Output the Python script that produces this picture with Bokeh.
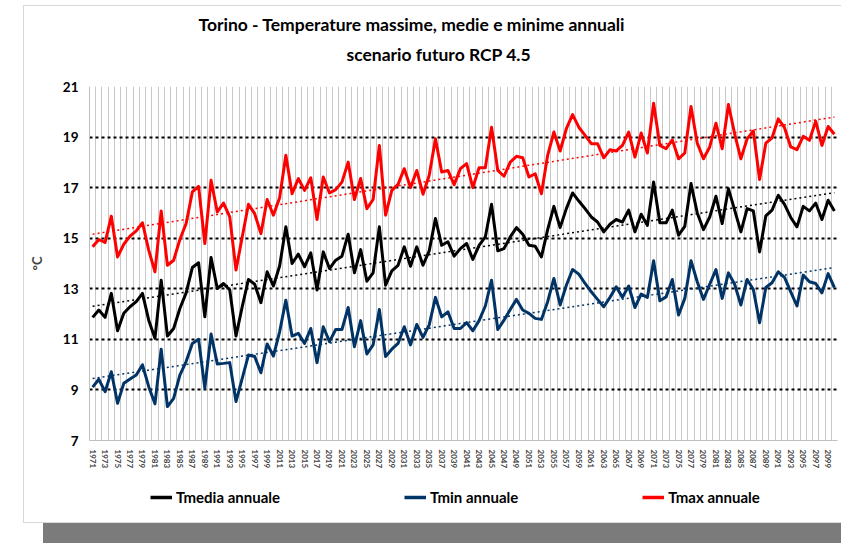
import numpy as np
from bokeh.plotting import figure
from bokeh.layouts import column
from bokeh.models import FixedTicker, Legend, LegendItem, Title, Range1d
from bokeh.embed import file_html
from bokeh.resources import INLINE

# ---------------- data ----------------
years = [str(y) for y in range(1971, 2001)] + [str(y) for y in range(2011, 2101)]

tmedia = [11.87, 12.16, 11.87, 12.82, 11.34, 12.03, 12.29, 12.49, 12.82, 11.76,
          11.04, 13.34, 11.13, 11.43, 12.22, 12.84, 13.84, 14.03, 11.89, 14.24,
          13.01, 13.21, 12.95, 11.13, 12.29, 13.37, 13.18, 12.45, 13.67, 13.11,
          13.90, 15.45, 14.00, 14.37, 13.87, 14.42, 12.95, 14.46, 13.80, 14.13,
          14.29, 15.16, 13.63, 14.55, 13.30, 13.63, 15.45, 13.14, 13.71, 13.93,
          14.66, 13.89, 14.66, 13.93, 14.50, 15.78, 14.72, 14.86, 14.29, 14.59,
          14.79, 14.16, 14.72, 15.05, 16.34, 14.50, 14.59, 15.05, 15.42, 15.16,
          14.72, 14.68, 14.26, 15.34, 16.26, 15.42, 16.17, 16.79, 16.47, 16.17,
          15.84, 15.64, 15.25, 15.55, 15.74, 15.64, 16.11, 15.25, 15.95, 15.51,
          17.22, 15.61, 15.61, 16.11, 15.12, 15.47, 17.16, 16.00, 15.34, 15.84,
          16.66, 15.58, 16.96, 16.11, 15.25, 16.17, 16.08, 14.46, 15.88, 16.11,
          16.70, 16.34, 15.82, 15.45, 16.26, 16.08, 16.39, 15.74, 16.50, 16.08]

tmin = [9.11, 9.42, 8.93, 9.72, 8.47, 9.26, 9.43, 9.59, 9.99, 9.13,
        8.45, 10.61, 8.34, 8.67, 9.59, 10.12, 10.84, 11.00, 9.07, 11.21,
        10.03, 10.05, 10.08, 8.54, 9.46, 10.38, 10.32, 9.68, 10.82, 10.34,
        11.30, 12.55, 11.13, 11.24, 10.84, 11.43, 10.08, 11.50, 10.91, 11.39,
        11.39, 12.26, 10.71, 11.74, 10.42, 10.78, 12.18, 10.32, 10.61, 10.84,
        11.50, 10.78, 11.59, 11.08, 11.57, 12.66, 11.89, 12.09, 11.43, 11.43,
        11.66, 11.34, 11.74, 12.32, 13.34, 11.39, 11.76, 12.18, 12.58, 12.16,
        12.03, 11.83, 11.79, 12.49, 13.41, 12.36, 13.14, 13.76, 13.58, 13.21,
        12.88, 12.58, 12.29, 12.66, 13.08, 12.66, 13.11, 12.26, 12.79, 12.66,
        14.11, 12.53, 12.68, 13.37, 11.96, 12.62, 14.11, 13.28, 12.58, 13.18,
        13.76, 12.62, 13.63, 13.18, 12.36, 13.37, 12.97, 11.66, 13.05, 13.24,
        13.67, 13.45, 12.88, 12.32, 13.54, 13.28, 13.21, 12.84, 13.60, 13.05]

tmax = [14.66, 14.95, 14.83, 15.87, 14.26, 14.76, 15.08, 15.29, 15.61, 14.53,
        13.67, 16.08, 13.93, 14.13, 14.95, 15.58, 16.83, 17.05, 14.79, 17.29,
        16.04, 16.39, 15.84, 13.74, 15.05, 16.34, 15.97, 15.18, 16.53, 15.91,
        16.60, 18.28, 16.76, 17.36, 16.89, 17.39, 15.74, 17.42, 16.79, 16.92,
        17.22, 18.01, 16.53, 17.36, 16.17, 16.53, 18.67, 15.91, 16.89, 17.13,
        17.75, 17.00, 17.68, 16.74, 17.49, 18.93, 17.62, 17.68, 17.12, 17.75,
        17.95, 17.00, 17.79, 17.79, 19.39, 17.68, 17.45, 18.01, 18.24, 18.18,
        17.42, 17.55, 16.76, 18.28, 19.20, 18.45, 19.33, 19.89, 19.39, 19.07,
        18.74, 18.74, 18.18, 18.50, 18.45, 18.67, 19.20, 18.21, 19.16, 18.37,
        20.34, 18.67, 18.54, 18.89, 18.14, 18.37, 20.21, 18.76, 18.14, 18.61,
        19.55, 18.54, 20.29, 19.13, 18.14, 18.93, 19.24, 17.32, 18.76, 18.97,
        19.72, 19.37, 18.61, 18.50, 19.03, 18.87, 19.63, 18.67, 19.42, 19.11]

y_ticks = [7, 9, 11, 13, 15, 17, 19, 21]
grid_levels = [9, 11, 13, 15, 17, 19, 21]

series_names = ["Tmedia annuale", "Tmin annuale", "Tmax annuale"]
series_colors = ["#000000", "#003366", "#ff0000"]
series_values = [tmedia, tmin, tmax]

FONT = "Lato"

# ---------------- main chart ----------------
idx = list(range(len(years)))

p = figure(width=817, height=470, output_backend="svg", toolbar_location=None,
           x_range=Range1d(-0.5, len(years) - 0.5), y_range=Range1d(7, 21),
           min_border_left=65, min_border_right=4, min_border_top=80,
           min_border_bottom=36)
p.outline_line_color = None
p.background_fill_color = "white"
p.border_fill_color = "white"

# titles (second line added first: it sits nearest the frame)
t2 = Title(text="scenario futuro RCP 4.5", align="left", offset=257,
           text_font=FONT, text_font_size="17.5px", text_font_style="bold",
           text_color="#000000", standoff=43)
p.add_layout(t2, "above")
t1 = Title(text="Torino - Temperature massime, medie e minime annuali", align="left",
           offset=109, text_font=FONT, text_font_size="17.5px",
           text_font_style="bold", text_color="#000000", standoff=-29)
p.add_layout(t1, "above")

# y axis
p.yaxis.ticker = FixedTicker(ticks=y_ticks)
p.yaxis.axis_label = "°C"
p.yaxis.axis_label_text_font = FONT
p.yaxis.axis_label_text_font_size = "13px"
p.yaxis.axis_label_text_font_style = "bold"
p.yaxis.axis_label_standoff = 15
p.yaxis.major_label_text_font = FONT
p.yaxis.major_label_text_font_size = "13.5px"
p.yaxis.major_label_text_font_style = "bold"
p.yaxis.major_label_text_color = "#000000"
p.yaxis.major_label_standoff = 11
p.yaxis.major_tick_out = 0
p.yaxis.major_tick_in = 0
p.yaxis.minor_tick_out = 0
p.yaxis.minor_tick_in = 0
p.yaxis.axis_line_color = "#bfbfbf"

# x axis
p.xaxis.ticker = FixedTicker(ticks=idx[::2])
p.xaxis.major_label_overrides = {i: years[i] for i in idx[::2]}
p.xaxis.major_label_orientation = "vertical"
p.xaxis.major_label_text_font = FONT
p.xaxis.major_label_text_font_size = "8px"
p.xaxis.major_label_text_font_style = "bold"
p.xaxis.major_label_text_color = "#404040"
p.xaxis.major_label_standoff = 9
p.xaxis.major_tick_out = 0
p.xaxis.major_tick_in = 0
p.xaxis.minor_tick_out = 0
p.xaxis.minor_tick_in = 0
p.xaxis.axis_line_color = "#bfbfbf"

# grids
p.ygrid.ticker = FixedTicker(ticks=grid_levels)
p.ygrid.grid_line_color = "#000000"
p.ygrid.grid_line_width = 2
p.ygrid.grid_line_dash = "3 3"
p.xgrid.ticker = FixedTicker(ticks=[i + 0.5 for i in idx])
p.xgrid.grid_line_color = "#c8c8c8"
p.xgrid.grid_line_width = 1

# series + trend lines
for vals, col in zip(series_values, series_colors):
    p.line(idx, vals, line_color=col, line_width=3, line_join="round")
    k, b = np.polyfit(np.array(idx, dtype=float), np.array(vals), 1)
    xs = [idx[0], idx[-1]]
    p.line(xs, [k * x + b for x in xs], line_color=col, line_width=1.5,
           line_dash="2 3")

# ---------------- legend strip ----------------
lg = figure(width=817, height=46, output_backend="svg", toolbar_location=None,
            x_axis_location=None, y_axis_location=None,
            x_range=Range1d(-0.5, len(years) - 0.5), y_range=Range1d(100, 101),
            min_border=0)
lg.outline_line_color = None
lg.grid.visible = False
lg.background_fill_color = "white"
lg.border_fill_color = "white"

items = []
for name, vals, col in zip(series_names, series_values, series_colors):
    r = lg.line(idx, vals, line_color=col, line_width=3.5)
    items.append(LegendItem(label=name, renderers=[r]))

legend = Legend(items=items, orientation="horizontal", location=(61, 16),
                spacing=124, glyph_width=22, glyph_height=14, label_height=14,
                label_standoff=4, padding=0, margin=0, border_line_color=None,
                background_fill_alpha=0,
                label_text_font=FONT, label_text_font_size="15px",
                label_text_font_style="bold", label_text_color="#000000")
lg.add_layout(legend, "center")

layout = column(p, lg, spacing=0)
layout.margin = (6, 0, 0, 24)
layout.styles = {"box-shadow": "0 0 0 1px #d9d9d9, 19px 21px 0 0 #7b7b7b",
                 "background-color": "white"}

open("out.html", "w").write(file_html(layout, INLINE))
